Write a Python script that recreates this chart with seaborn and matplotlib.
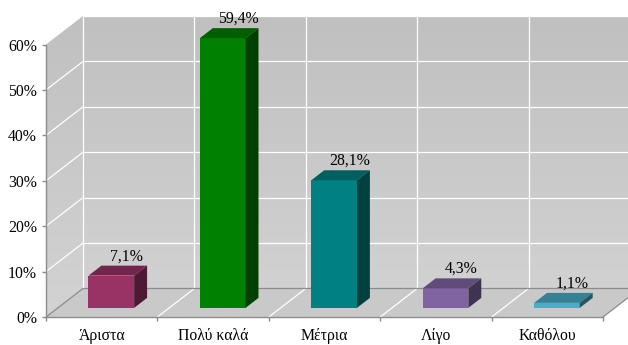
import numpy as np
import matplotlib
matplotlib.use("Agg")
import matplotlib.pyplot as plt
from matplotlib.patches import Polygon
from matplotlib.colors import LinearSegmentedColormap, to_rgb
import seaborn as sns

categories = ["Άριστα", "Πολύ καλά", "Μέτρια", "Λίγο", "Καθόλου"]
values = [7.1, 59.4, 28.1, 4.3, 1.1]
colors = ["#993366", "#008000", "#008080", "#8064A2", "#4BACC6"]
yticks = [0, 10, 20, 30, 40, 50, 60]

sns.set_theme(style="white")
plt.rcParams["font.family"] = ["Liberation Serif", "DejaVu Serif"]

W, H = 628, 345
FS = 11.3
fig = plt.figure(figsize=(W / 100, H / 100), dpi=100)
ax = fig.add_axes([46 / W, 28 / H, (W - 46) / W, (317 - 16) / H])

# 3D depth of the floor (category units, percent units)
DX, DY = 0.332, 6.28
D0, D1 = 0.32, 0.67   # front / back depth fraction of the bars
SHIFT = -0.02         # small horizontal nudge of the bar bodies
YMAX = 60
x0, x1 = -0.5, len(categories) - 0.5

sns.barplot(x=categories, y=values, hue=categories, palette=colors,
            saturation=1, width=0.41, legend=False, ax=ax, zorder=5,
            linewidth=0, edgecolor="none")
bars = sorted(ax.patches, key=lambda p: p.get_x())

ax.set_xlim(x0, x0 + (W - 46) / 111.4)
ax.set_ylim(0, YMAX + DY)

# walls with a soft vertical gradient
wall_cmap = LinearSegmentedColormap.from_list("wall", ["#d3d3d3", "#c0c0c0"])
grad = np.linspace(0, 1, 256).reshape(-1, 1)
side = Polygon([(x0, 0), (x0, YMAX), (x0 + DX, YMAX + DY), (x0 + DX, DY)],
               closed=True, facecolor="none", edgecolor="none")
back = Polygon([(x0 + DX, DY), (x1 + DX, DY), (x1 + DX, YMAX + DY), (x0 + DX, YMAX + DY)],
               closed=True, facecolor="none", edgecolor="none")
for poly in (side, back):
    ax.add_patch(poly)
    im = ax.imshow(grad, cmap=wall_cmap, origin="lower", aspect="auto",
                   extent=(x0, x1 + DX, 0, YMAX + DY), zorder=0)
    im.set_clip_path(poly)

# floor
ax.add_patch(Polygon([(x0, 0), (x1, 0), (x1 + DX, DY), (x0 + DX, DY)],
                     closed=True, facecolor="#c9c9c9", edgecolor="none", zorder=1))

# gridlines on back and side walls
GW = 0.9
for v in yticks[1:]:
    ax.plot([x0 + DX, x1 + DX], [v + DY, v + DY], color="white", lw=GW, zorder=2)
    if v < YMAX:
        ax.plot([x0, x0 + DX], [v, v + DY], color="white", lw=GW, zorder=2)
for k in range(len(categories) + 1):
    xb = x0 + k
    ax.plot([xb + DX, xb + DX], [DY, YMAX + DY], color="white", lw=GW, zorder=2)
    if 0 < k < len(categories):
        ax.plot([xb, xb + DX], [0, DY], color="white", lw=GW, zorder=2)
# floor outline
edge = "#8c8c8c"
ax.plot([x0 + DX, x1 + DX], [DY, DY], color=edge, lw=0.9, zorder=3)
ax.plot([x0, x0 + DX], [0, DY], color=edge, lw=0.9, zorder=3)
ax.plot([x1, x1 + DX], [0, DY], color=edge, lw=0.9, zorder=3)


def shade(c, f):
    r, g, b = to_rgb(c)
    return (r * f, g * f, b * f)


ddx, ddy = (D1 - D0) * DX, (D1 - D0) * DY
for bar, val, col in zip(bars, values, colors):
    bar.set_x(bar.get_x() + D0 * DX + SHIFT)
    bar.set_y(D0 * DY)
    bar.set_linewidth(0)
    bx, by, bw, bh = bar.get_x(), bar.get_y(), bar.get_width(), bar.get_height()
    top = by + bh
    ax.add_patch(Polygon([(bx, top), (bx + bw, top), (bx + bw + ddx, top + ddy), (bx + ddx, top + ddy)],
                         closed=True, facecolor=shade(col, 0.75), edgecolor="none", zorder=6))
    ax.add_patch(Polygon([(bx + bw, by), (bx + bw, top), (bx + bw + ddx, top + ddy), (bx + bw + ddx, by + ddy)],
                         closed=True, facecolor=shade(col, 0.5), edgecolor="none", zorder=6))
    ax.annotate(f"{val:.1f}%".replace(".", ","),
                xy=(bx + bw / 2 + 1.2 * ddx, top + ddy),
                xytext=(0, 1), textcoords="offset points",
                ha="center", va="bottom", fontsize=FS, color="black", zorder=7)

# axes styling
for s in ("top", "right"):
    ax.spines[s].set_visible(False)
ax.spines["left"].set_bounds(0, YMAX)
ax.spines["bottom"].set_bounds(x0, x1)
for s in ("left", "bottom"):
    ax.spines[s].set_color(edge)
    ax.spines[s].set_linewidth(1)
    ax.spines[s].set_zorder(4)

ax.set_yticks(yticks)
ax.set_yticklabels([f"{v}%" for v in yticks])
ax.set_xticks(range(len(categories)))
ax.set_xticklabels(categories)
ax.set_xticks(np.arange(x0, x1 + 0.01, 1), minor=True)
ax.tick_params(axis="y", which="major", left=True, length=3, width=1, color=edge,
               pad=3.5, labelsize=FS, labelcolor="black")
ax.tick_params(axis="x", which="major", bottom=False, length=0, pad=8,
               labelsize=FS, labelcolor="black")
ax.tick_params(axis="x", which="minor", bottom=True, length=3, width=1, color=edge)
ax.set_xlabel("")
ax.set_ylabel("")
ax.grid(False)
ax.set_facecolor("none")

fig.savefig("out.png", dpi=100)
